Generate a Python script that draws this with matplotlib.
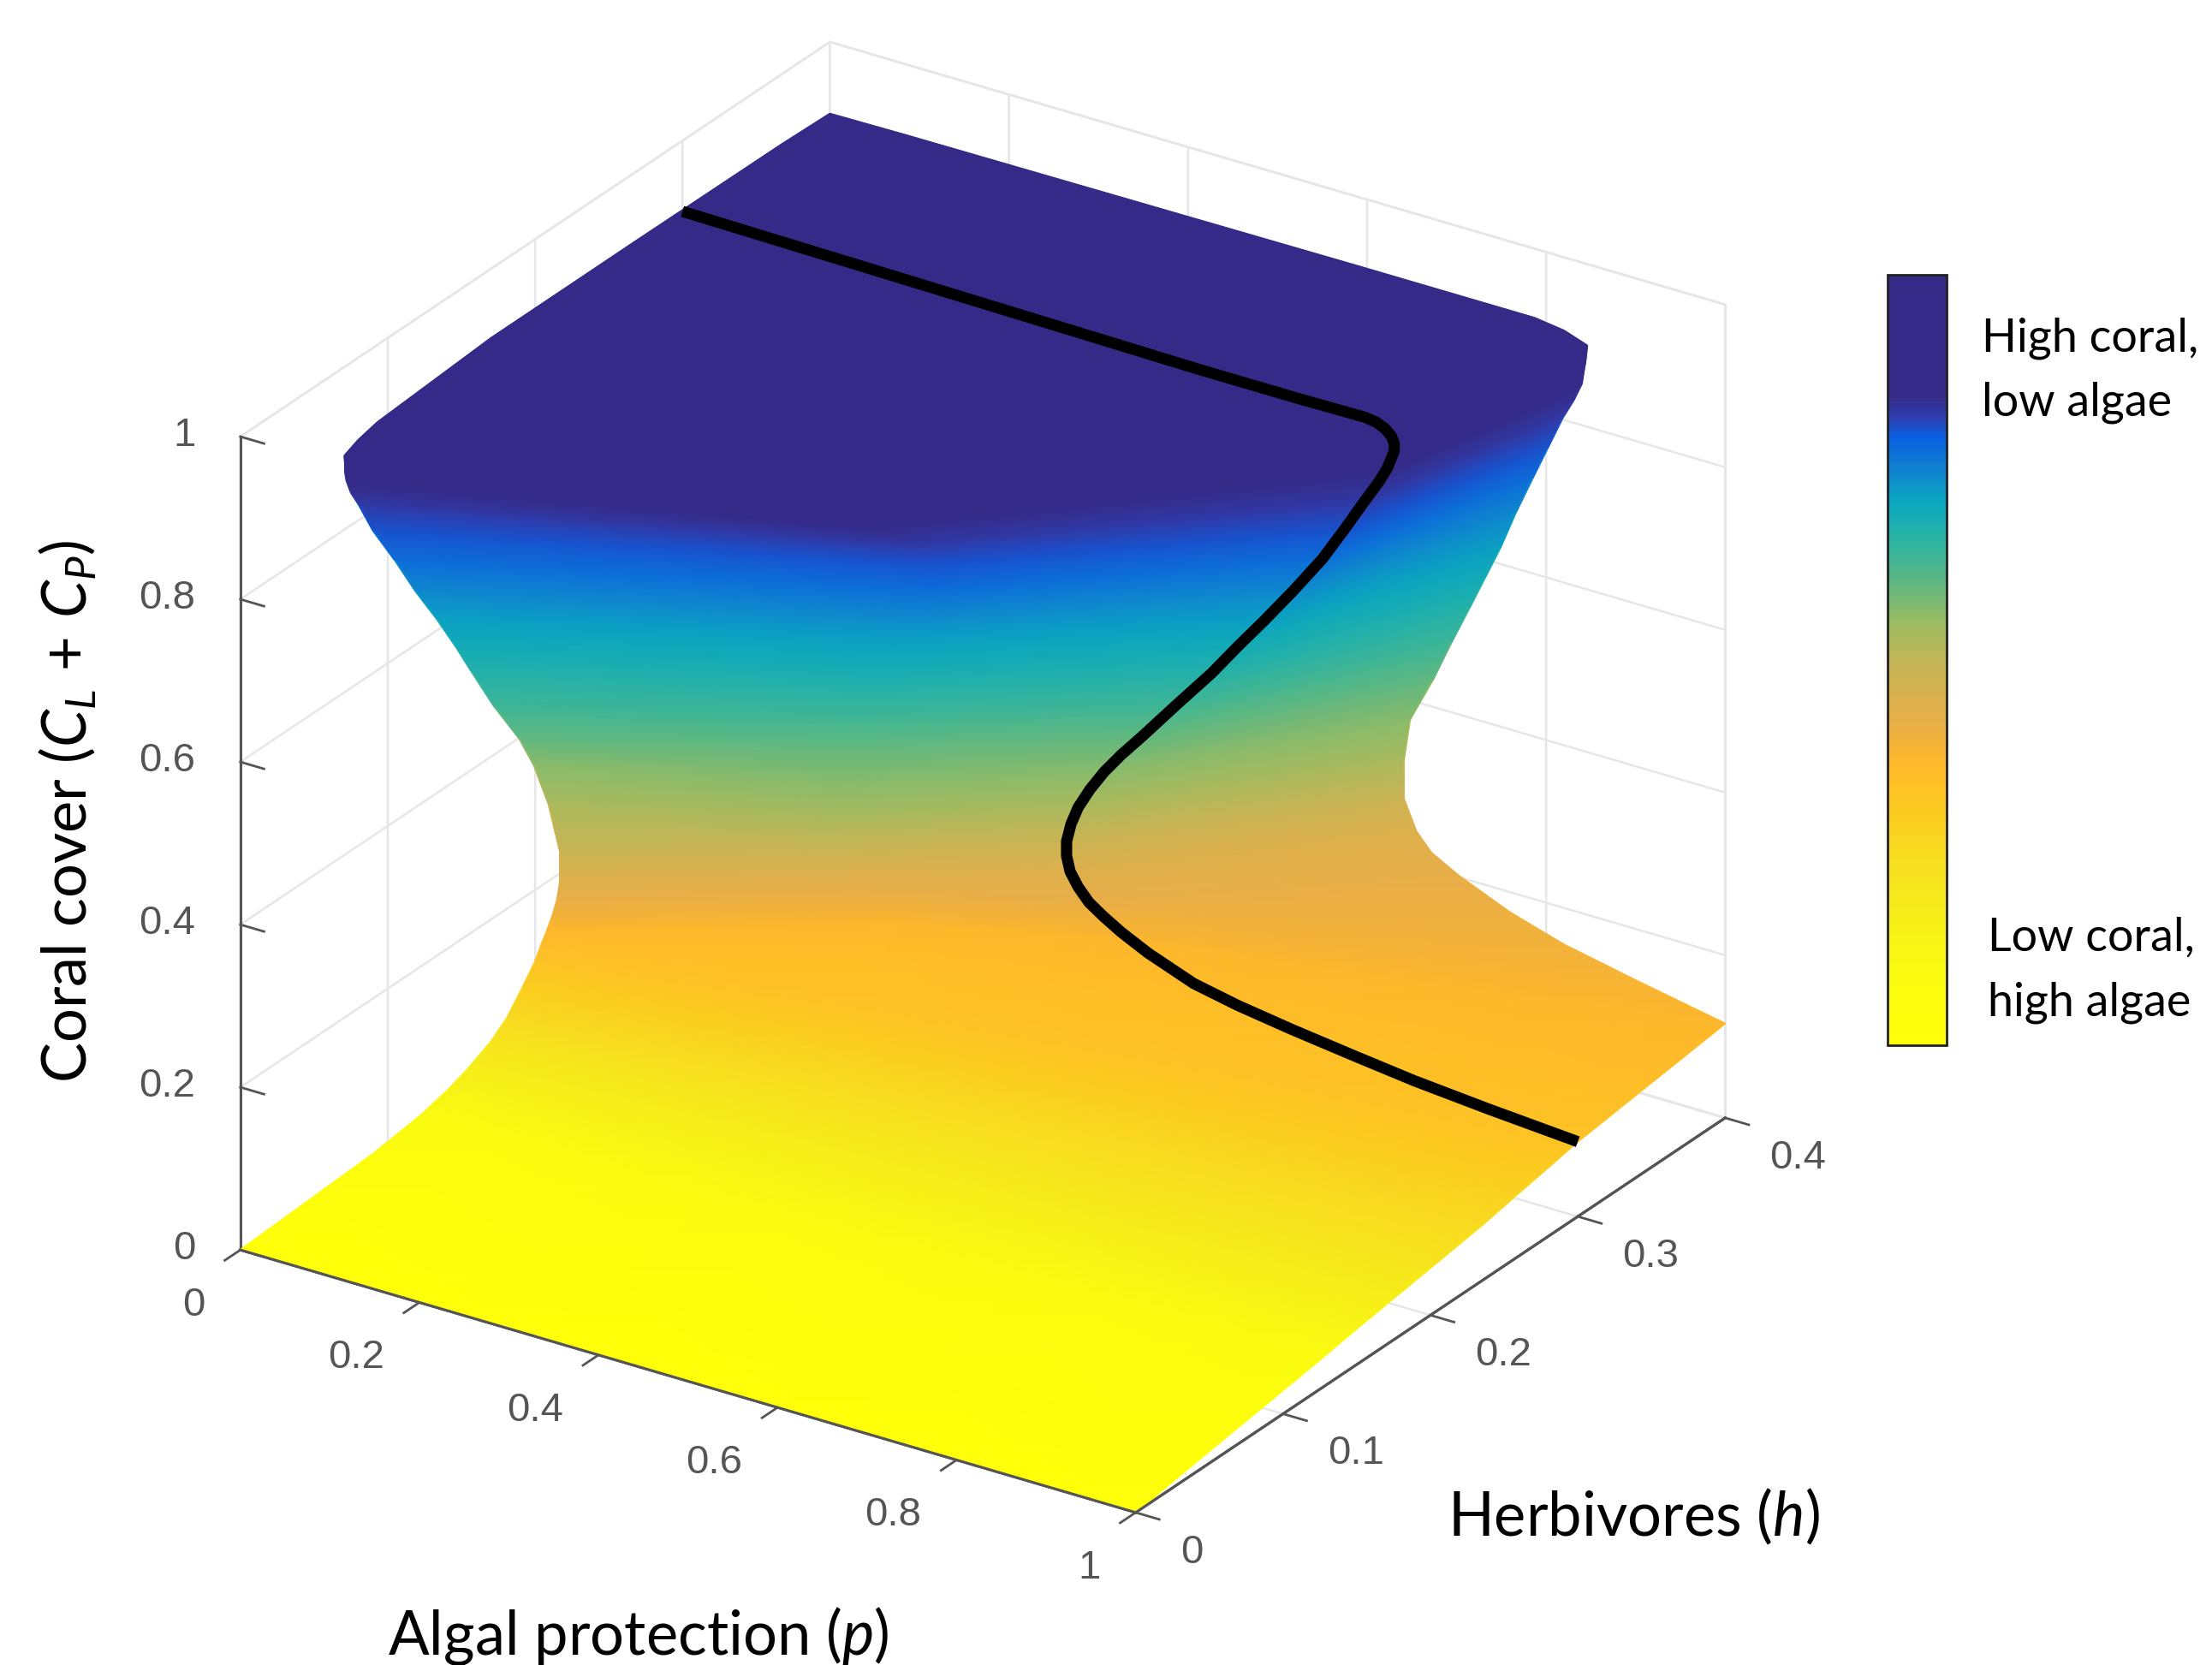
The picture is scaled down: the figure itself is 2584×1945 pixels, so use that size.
import numpy as np
import matplotlib
matplotlib.use('Agg')
import matplotlib.pyplot as plt
from matplotlib.collections import LineCollection
from matplotlib.colors import LinearSegmentedColormap
from matplotlib.colorbar import ColorbarBase
from mpl_toolkits.mplot3d import proj3d

W, H = 2584, 1945

plt.rcParams['font.family'] = ['Liberation Sans', 'DejaVu Sans']
plt.rcParams['mathtext.fontset'] = 'custom'
plt.rcParams['mathtext.rm'] = 'Lato'
plt.rcParams['mathtext.it'] = 'Lato:italic'
plt.rcParams['grid.color'] = '#e6e6e6'
plt.rcParams['grid.linewidth'] = 0.9
plt.rcParams['xtick.color'] = '#555555'
plt.rcParams['ytick.color'] = '#555555'
plt.rcParams['xtick.major.width'] = 1.0
plt.rcParams['ytick.major.width'] = 1.0

# colour bar stops (fraction from the bottom)
cb_pos = [0, .09, .16, .23, .30, .365, .42, .49, .545, .60, .65, .705, .75, .79, .816, .844, 1]
cb_colors = ['#ffff0a', '#fbfb10', '#f6f018', '#f7e020', '#fccc20', '#ffb82a', '#e8ae48', '#c8b455',
             '#a0bc60', '#60b880', '#30b5a0', '#0aa8c0', '#1080d0', '#0a60e0', '#2f3fb0', '#352a87', '#352a87']

# surface rows, bottom to top. each row is one colour band with 4 nodes:
# left edge (p=0), front, middle, right edge
z_levels = [.241, .277, .323, .376, .434, .485, .536, .578, .62, .668, .717, .76, .803, .828, .851, .866, .879]

row_color = [0, .02, .06, .09, .13, .17, .21, .25, .30, .33, .35, .37, .383, .395, .408, .42, .432,
             .445, .485, .53, .565, .598, .635, .665, .69, .712, .74, .77, .797, .822, .835, .845, .85, .86,
             .95, .97, 1, 1, 1, 1, 1]

h_left = [0, .04, .09, .122, .141, .155, .17, .181, .192, .2, .204, .208, .21, .212, .2135, .215, .216,
          .217, .217, .209, .199, .189, .172, .157, .146, .133, .119, .105, .09, .08, .075, .072, .071, .071,
          .0705, .08, .093, .17, .269, .367, .4]
z_left = [0, .004, .009, .017, .026, .036, .05, .066, .092, .112, .127, .14, .148, .155, .163, .171, .181,
          .192, .225, .295, .355, .40, .46, .52, .565, .615, .665, .72, .775, .82, .84, .858, .87, .88,
          .891, .899, .905, .915, .915, .914, .912]

p_front = [.33, .33, .33, .33, .33, .33, .33, .33, .33, .33, .3, .3, .29, .28, .27, .26, .26,
           .262, .265, .272, .283, .294, .32, .345, .37, .39, .42, .45, .46, .46, .455, .45, .44, .43,
           .43, .415, .40, .30, .172, .043, 0]
h_front = [0, .047, .093, .118, .143, .164, .181, .2, .22, .235, .255, .265, .263, .262, .261, .26, .256,
           .252, .248, .243, .237, .232, .226, .22, .215, .21, .203, .197, .19, .175, .163, .152, .145, .14,
           .135, .143, .153, .215, .294, .374, .4]
z_front = [0, .004, .011, .019, .031, .044, .057, .076, .096, .117, .152, .178, .187, .195, .204, .212, .225] \
    + z_levels + [.892, .896, .90, .905, .908, .91, .912]

p_mid = [.67, .67, .67, .67, .67, .67, .67, .67, .67, .67, .6, .5, .485, .47, .46, .454, .44,
         .433, .429, .442, .471, .514, .551, .591, .62, .65, .683, .715, .74, .762, .776, .787, .792, .795,
         .791, .765, .74, .556, .318, .08, 0]
h_mid = [0, .043, .097, .122, .147, .169, .191, .22, .245, .27, .3, .3, .3, .3, .3, .3, .3,
         .3, .3, .3, .3, .3, .3, .3, .3, .3, .3, .3, .3, .3, .3, .3, .3, .3,
         .3, .304, .307, .33, .36, .39, .4]
z_mid = [0, .008, .02, .027, .038, .047, .058, .072, .088, .104, .141, .178, .185, .198, .205, .21, .226] \
    + z_levels + [.897, .902, .905, .908, .908, .91, .912]

p_right = [1, 1, 1, 1, 1, 1, 1, 1, 1, 1, 1, 1, .90, .82, .76, .702, .672,
           .655, .641, .641, .648, .674, .694, .715, .732, .749, .766, .785, .802, .819, .831, .84, .842, .844,
           .846, .82, .787, .592, .338, .085, 0]
h_right = [0, .04, .10, .125, .15, .175, .20, .235, .27, .30, .35, .4, .4, .4, .4, .4, .4,
           .4, .4, .4, .4, .4, .4, .4, .4, .4, .4, .4, .4, .4, .4, .4, .4, .4,
           .4, .4, .4, .4, .4, .4, .4]
z_right = [0, .012, .029, .036, .044, .051, .058, .068, .081, .092, .104, .116, .137, .155, .175, .202, .22] \
    + z_levels + [.9, .91, .915, .915, .914, .913, .912]

# black line at h = 0.3
line_h = 0.3
line_p = [0, .29, .578, .685, .762, .775, .785, .792, .795, .795, .792, .787, .778, .762, .74, .715, .683, .65,
          .62, .591, .551, .514, .49, .471, .455, .442, .434, .429, .429, .433, .442, .454, .47, .49, .52, .571,
          .62, .68, .75, .817, .9, 1]
line_z = [.913, .909, .905, .905, .906, .904, .899, .892, .884, .875, .866, .851, .832, .803, .762, .717, .668, .62,
          .578, .536, .4835, .434, .403, .376, .349, .323, .30, .277, .259, .241, .225, .21, .198, .185, .169, .148,
          .137, .127, .117, .108, .10, .092]

p_ticks = [0, .2, .4, .6, .8, 1]
p_labels = ['0', '0.2', '0.4', '0.6', '0.8', '1']
h_ticks = [0, .1, .2, .3, .4]
h_labels = ['0', '0.1', '0.2', '0.3', '0.4']
z_ticks = [0, .2, .4, .6, .8, 1]
z_labels = ['0', '0.2', '0.4', '0.6', '0.8', '1']

cmap = LinearSegmentedColormap.from_list('coral', list(zip(cb_pos, cb_colors)), N=256)

fig = plt.figure(figsize=(W / 200, H / 200), dpi=200)
side = 2002
ax = fig.add_axes([120 / W, 9 / H, side / W, side / H], projection='3d', proj_type='ortho', computed_zorder=False)
ax.set_xlim(0, 1, view_margin=0)
ax.set_ylim(0, .4, view_margin=0)
ax.set_zlim(0, 1, view_margin=0)
ax.set_box_aspect((761, 757, 643))
ax.view_init(elev=26.3, azim=-56.5)
ax.patch.set_alpha(0)

ax.set_xticks(p_ticks, [''] * len(p_ticks))
ax.set_yticks(h_ticks, [''] * len(h_ticks))
ax.set_zticks(z_ticks, [''] * len(z_ticks))
ax.tick_params(axis='both', color='#555555')
ax.zaxis.set_ticks_position('lower')
# z ticks run along the p direction in the reference
ax.zaxis._get_tickdir = lambda position: 0

for axis in (ax.xaxis, ax.yaxis, ax.zaxis):
    axis.set_pane_color((1, 1, 1, 1))
    axis.pane.set_edgecolor('#e2e2e2')
    axis.pane.set_linewidth(0.9)
    axis.line.set_color('#555555')
    axis.line.set_linewidth(1.1)
    axis._axinfo['tick']['inward_factor'] = 0.33
    axis._axinfo['tick']['outward_factor'] = 0


def to_px(xs, ys, zs):
    # 3d data -> figure pixels, through the 3d axes' own projection
    xs, ys, zs = np.asarray(xs, float), np.asarray(ys, float), np.asarray(zs, float)
    xp, yp, _ = proj3d.proj_transform(xs.ravel(), ys.ravel(), zs.ravel(), ax.get_proj())
    pts = ax.transData.transform(np.column_stack([xp, yp]))
    return pts[:, 0].reshape(xs.shape), pts[:, 1].reshape(xs.shape)


ax.apply_aspect()

X = np.array([np.zeros(len(h_left)), p_front, p_mid, p_right]).T
Y = np.array([h_left, h_front, h_mid, h_right]).T
Z = np.array([z_left, z_front, z_mid, z_right]).T
C = np.repeat(np.array(row_color)[:, None], 4, axis=1)

# smooth surface drawn on a transparent layer over the 3d frame
over = fig.add_axes([0, 0, 1, 1])
over.set_xlim(0, W)
over.set_ylim(0, H)
over.set_xticks([])
over.set_yticks([])
over.axis('off')

sx, sy = to_px(X, Y, Z)
over.pcolormesh(sx, sy, C, shading='gouraud', cmap=cmap, vmin=0, vmax=1, zorder=1)

# thin coloured strokes to soften the left and right silhouette
for col in (0, 3):
    pts = np.column_stack([sx[:, col], sy[:, col]])
    segs = np.stack([pts[:-1], pts[1:]], axis=1)
    over.add_collection(LineCollection(segs, colors=cmap(np.array(row_color[:-1])), linewidths=0.7, zorder=1.5))

# front axis lines sit on top of the surface edge
ex, ey = to_px([0, 1], [0, 0], [0, 0])
over.plot(ex, ey, color='#555555', lw=1.1, zorder=2)
ex, ey = to_px([1, 1], [0, .4], [0, 0])
over.plot(ex, ey, color='#555555', lw=1.1, zorder=2)

lx, ly = to_px(line_p, np.full(len(line_p), line_h), line_z)
over.plot(lx, ly, color='black', lw=4.7, zorder=3, solid_capstyle='butt', solid_joinstyle='round')

# tick labels, placed just off the ticks
tick_kw = dict(fontsize=17, color='#555555', va='center')
for p, lab in zip(p_ticks, p_labels):
    tx, ty = to_px([p], [-.024], [-.039])
    over.text(tx[0], ty[0], lab, ha='right', **tick_kw)
for h, lab in zip(h_ticks, h_labels):
    tx, ty = to_px([1.05], [h], [-.033])
    over.text(tx[0], ty[0], lab, ha='left', **tick_kw)
for z, lab in zip(z_ticks, z_labels):
    tx, ty = to_px([-.05], [0], [z - .015])
    over.text(tx[0], ty[0], lab, ha='right', **tick_kw)

# colour bar
cax = fig.add_axes([2205 / W, 1 - 1221 / H, 69 / W, 900 / H])
cb = ColorbarBase(cax, cmap=cmap, orientation='vertical', ticks=[])
cb.outline.set_edgecolor('#222222')
cb.outline.set_linewidth(1.0)

label_kw = dict(family='Lato', color='black', va='center')
fig.text(2315 / W, 1 - 395 / H, 'High coral,', fontsize=19.4, **label_kw)
fig.text(2315 / W, 1 - 470 / H, 'low algae', fontsize=19.4, **label_kw)
fig.text(2322 / W, 1 - 1095 / H, 'Low coral,', fontsize=19.4, **label_kw)
fig.text(2322 / W, 1 - 1171 / H, 'high algae', fontsize=19.4, **label_kw)
fig.text(1691 / W, 1 - 1772 / H, r'Herbivores ($h$)', fontsize=25.4, **label_kw)
fig.text(453 / W, 1 - 1912 / H, r'Algal protection ($p$)', fontsize=25.4, **label_kw)
fig.text(79 / W, 1 - 948 / H, r'Coral cover ($C_L\,+\,C_P$)', fontsize=25.4, rotation=90, ha='center',
         rotation_mode='anchor', **label_kw)

fig.savefig('out.png', dpi=200)
